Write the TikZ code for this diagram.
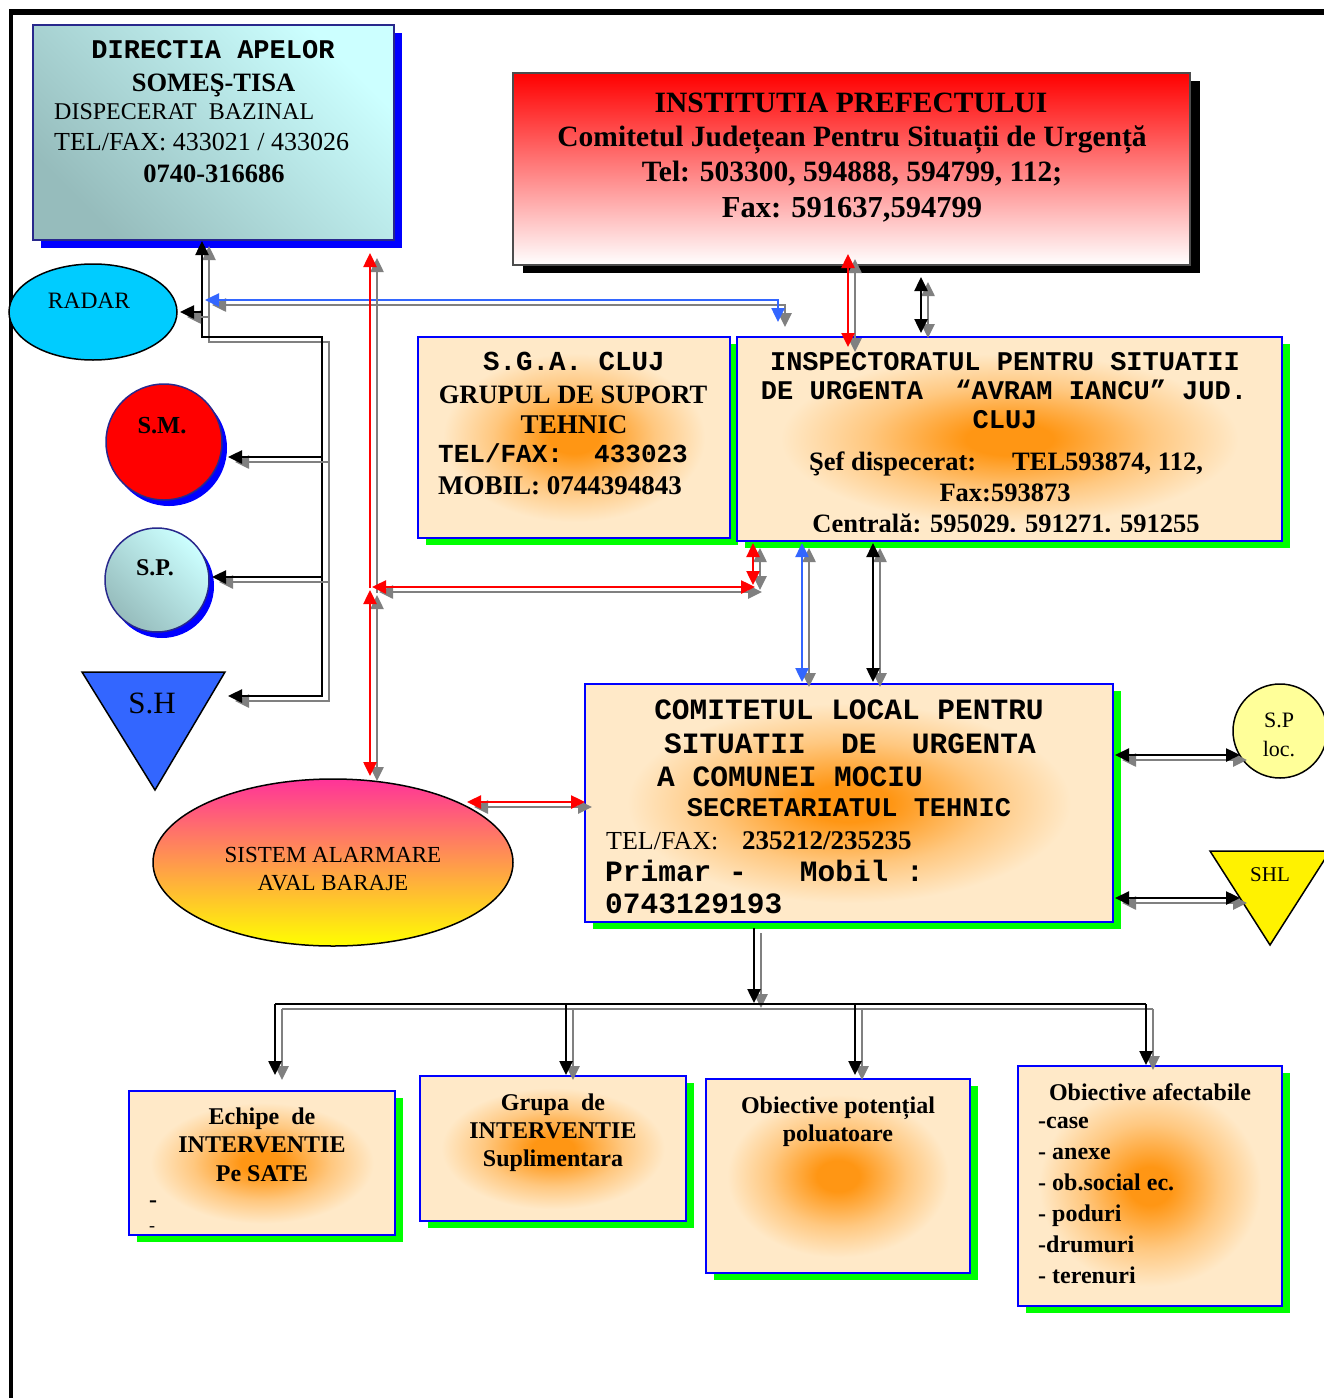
\documentclass[tikz,border=0pt]{standalone}
\usepackage{fontspec}
\setmainfont{Liberation Serif}
\newfontfamily\cour{Liberation Mono}
\usetikzlibrary{arrows.meta,shadows,shapes.geometric}
\definecolor{peach}{RGB}{255,233,200}
\definecolor{orng}{RGB}{255,150,20}
\definecolor{dacyan}{RGB}{204,255,255}
\definecolor{dagray}{RGB}{150,188,188}
\definecolor{cgray}{RGB}{128,128,128}
\definecolor{bblue}{RGB}{0,0,255}
\definecolor{lblue}{RGB}{51,102,255}
\definecolor{radarc}{RGB}{0,204,255}
\definecolor{pinkc}{RGB}{255,51,153}
\definecolor{midc}{RGB}{255,170,115}
\definecolor{lyel}{RGB}{255,255,153}
\definecolor{navy}{RGB}{40,40,140}
\pgfdeclareradialshading{glow}{\pgfpoint{0bp}{0bp}}{color(0bp)=(orng); color(4bp)=(orng); color(13bp)=(orng!40!peach); color(21bp)=(peach); color(50bp)=(peach)}
\newcommand\fs[1]{\fontsize{#1}{#1}\selectfont}
\newcommand\twin[2]{\draw[#1,shadowln] #2; \draw[#1] #2;}
\begin{document}
\begin{tikzpicture}[x=1pt,y=-1pt,
  >={Triangle[length=14pt,width=13pt]},
  conn/.style={line width=2.5pt},
  blk/.style={conn,color=black},
  rd/.style={conn,color=red},
  blu/.style={conn,color=lblue},
  shadowln/.style={color=cgray,transform canvas={shift={(7,5)}}},
  sz/.style 2 args={minimum width=#1pt,minimum height=#2pt,inner sep=0pt},
  gbox/.style={draw=bblue,line width=2pt,shade,shading=glow,
     drop shadow={shadow xshift=8pt,shadow yshift=-7pt,fill=green,opacity=1}},
  txt/.style={inner sep=0pt,anchor=base},
  txw/.style={inner sep=0pt,anchor=base west}]
\useasboundingbox (0,0) rectangle (1324,1398);
\fill[white] (0,0) rectangle (1324,1398);
% frame
\draw[line width=6pt] (9,12) -- (1324,12);
\draw[line width=3.5pt] (11,12) -- (11,1398);

% boxes
\node[sz={361}{215},draw=navy,line width=1.5pt,top color=dacyan,bottom color=dagray,shading angle=-45,
  drop shadow={shadow xshift=8pt,shadow yshift=-8pt,fill=bblue,opacity=1}] (da) at (213.5,132.5) {};
\node[sz={677}{192},draw=black!70,line width=1.5pt,top color=red,bottom color=white,
  drop shadow={shadow xshift=10pt,shadow yshift=-8pt,fill=black,opacity=1}] (pref) at (851.5,169) {};
\node[sz={312}{201},gbox] (sga) at (574,437.5) {};
\node[sz={545}{204},gbox] (insp) at (1009.5,439) {};
\node[sz={528}{238},gbox] (com) at (849,803) {};
\node[sz={266}{144},gbox] (ech) at (262,1163) {};
\node[sz={266}{145},gbox] (grp) at (553,1148.5) {};
\node[sz={264}{194},gbox] (obp) at (838,1176) {};
\node[sz={264}{240},gbox] (oba) at (1150,1186) {};

% round shapes
\node[ellipse,sz={168}{96},draw=black,line width=1.5pt,fill=radarc] (radar) at (93,312) {};
\node[circle,sz={116}{116},draw=navy,line width=1.5pt,fill=red,
  drop shadow={shadow xshift=5pt,shadow yshift=-6pt,fill=bblue,opacity=1}] (sm) at (164,442) {};
\node[circle,sz={104}{104},draw=navy,line width=1.5pt,top color=dacyan,bottom color=dagray,shading angle=-45,
  drop shadow={shadow xshift=5pt,shadow yshift=-6pt,fill=bblue,opacity=1}] (sp) at (157,580) {};
\node[ellipse,sz={360}{167},draw=black,line width=1.5pt,top color=pinkc,middle color=midc,bottom color=yellow] (sist) at (333,862.5) {};
\node[circle,sz={94}{94},draw=black,line width=1.5pt,fill=lyel] (sploc) at (1280,731) {};
\draw[line width=1.5pt,fill=lblue] (82,672) -- (225,672) -- (155,790) -- cycle;
\draw[line width=1.5pt,fill=yellow] (1210,851) -- (1330,851) -- (1270,945) -- cycle;

% texts DA
\node[txt] (da1) at (213,58) {\cour\bfseries\fs{27}DIRECTIA APELOR};
\node[txt] (da2) at (213.5,91) {\bfseries\fs{26.5}SOMEŞ-TISA};
\node[txw] (da3) at (54,119) {\fs{24}DISPECERAT\ \ BAZINAL};
\node[txw] (da4) at (54,150) {\fs{26}TEL/FAX: 433021 / 433026};
\node[txt] (da5) at (214,182) {\bfseries\fs{26.5}0740-316686};
% prefect
\node[txt] (p1) at (851,112) {\bfseries\fs{29.5}INSTITUTIA PREFECTULUI};
\node[txt] (p2) at (852,146) {\bfseries\fs{29.5}Comitetul Județean Pentru Situații de Urgență};
\node[txt] (p3) at (852,181) {\bfseries\fs{29.5}Tel: 503300, 594888, 594799, 112;};
\node[txt] (p4) at (852,217) {\bfseries\fs{30.5}Fax: 591637,594799};
% sga
\node[txt] (s1) at (574,370) {\cour\bfseries\fs{27.5}S.G.A. CLUJ};
\node[txt] (s2) at (573,403) {\bfseries\fs{26.5}GRUPUL DE SUPORT};
\node[txt] (s3) at (574,433) {\bfseries\fs{27}TEHNIC};
\node[txw] (s4) at (438,462) {\cour\bfseries\fs{26}TEL/FAX:\ \ 433023};
\node[txw] (s5) at (438,494) {\bfseries\fs{27}MOBIL: 0744394843};
% inspectorat
\node[txt] (i1) at (1005,370) {\cour\bfseries\fs{27}INSPECTORATUL PENTRU SITUATII};
\node[txt] (i2) at (1004,399) {\cour\bfseries\fs{27}DE URGENTA\ \ “AVRAM IANCU” JUD.};
\node[txt] (i3) at (1005,428) {\cour\bfseries\fs{27}CLUJ};
\node[txt] (i4) at (1006,470) {\bfseries\fs{26.5}Şef dispecerat:\hspace{36pt}TEL593874, 112,};
\node[txt] (i5) at (1005,501) {\bfseries\fs{26.5}Fax:593873};
\begin{scope}
\clip (740,340) rectangle (1280,531);
\node[txt] (i6) at (1006,532) {\bfseries\fs{26.5}Centrală: 595029. 591271. 591255};
\end{scope}
% comitetul
\node[txt] (c1) at (849,719) {\cour\bfseries\fs{29.5}COMITETUL LOCAL PENTRU};
\node[txt] (c2) at (850,753) {\cour\bfseries\fs{29.5}SITUATII\ \ DE\ \ URGENTA};
\node[txw] (c3) at (657,786) {\cour\bfseries\fs{29.5}A COMUNEI MOCIU};
\node[txt] (c4) at (849,816) {\cour\bfseries\fs{27}SECRETARIATUL TEHNIC};
\node[txw] (c5) at (606,849) {\fs{26}TEL/FAX:};
\node[txw] (c6) at (742,849) {\bfseries\fs{27}235212/235235};
\node[txw] (c7) at (605,881) {\cour\bfseries\fs{29.5}Primar -\ \ \ Mobil :};
\node[txw] (c8) at (605,913) {\cour\bfseries\fs{29.5}0743129193};
% bottom
\node[txt] (e1) at (262,1124) {\bfseries\fs{24}Echipe\ \ de};
\node[txt] (e2) at (262,1152) {\bfseries\fs{24}INTERVENTIE};
\node[txt] (e3) at (262,1181) {\bfseries\fs{24}Pe SATE};
\node[txw] (e4) at (149,1207) {\bfseries\fs{24}-};
\node[txw] (e5) at (149,1231) {\fs{18}-};
\node[txt] (g1) at (553,1110) {\bfseries\fs{24}Grupa\ \ de};
\node[txt] (g2) at (553,1138) {\bfseries\fs{24}INTERVENTIE};
\node[txt] (g3) at (553,1166) {\bfseries\fs{24}Suplimentara};
\node[txt] (o1) at (838,1113) {\bfseries\fs{24}Obiective potențial};
\node[txt] (o2) at (838,1141) {\bfseries\fs{24}poluatoare};
\node[txt] (a1) at (1150,1100) {\bfseries\fs{24}Obiective afectabile};
\node[txw] (a2) at (1038,1128) {\bfseries\fs{24}-case};
\node[txw] (a3) at (1038,1159) {\bfseries\fs{24}- anexe};
\node[txw] (a4) at (1038,1190) {\bfseries\fs{24}- ob.social ec.};
\node[txw] (a5) at (1038,1221) {\bfseries\fs{24}- poduri};
\node[txw] (a6) at (1038,1252) {\bfseries\fs{24}-drumuri};
\node[txw] (a7) at (1038,1283) {\bfseries\fs{24}- terenuri};
% shapes text
\node[txt] (r1) at (89,308) {\fs{23.5}RADAR};
\node[txt] (sm1) at (162,433) {\bfseries\fs{24.5}S.M.};
\node[txt] (sp1) at (155,575) {\bfseries\fs{24}S.P.};
\node[txt] (sh1) at (152,713) {\fs{31}S.H};
\node[txt] (al1) at (333,862) {\fs{23}SISTEM ALARMARE};
\node[txt] (al2) at (333,890) {\fs{23}AVAL BARAJE};
\node[txt] (pl1) at (1279,727) {\fs{22}S.P};
\node[txt] (pl2) at (1279,756) {\fs{22}loc.};
\node[txt] (shl1) at (1270,881) {\fs{21}SHL};

% connector coordinates
\coordinate (aDA) at (202,241);
\coordinate (aJ1) at (202,337);
\coordinate (aJ2) at (322,337);
\coordinate (aJ3) at (322,697);
\coordinate (aRd0) at (202,312); \coordinate (aRd) at (180,312);
\coordinate (aSM0) at (322,457); \coordinate (aSM) at (228,457);
\coordinate (aSP0) at (322,577); \coordinate (aSP) at (212,577);
\coordinate (aSH0) at (322,696); \coordinate (aSH) at (228,696);
\coordinate (bE) at (778,322); \coordinate (bC) at (778,300); \coordinate (bW) at (205,300);
\coordinate (rT) at (370,253); \coordinate (rM) at (370,588);
\coordinate (rM2) at (370,590); \coordinate (rB) at (370,776);
\coordinate (rL) at (372,587); \coordinate (rR) at (755,587);
\coordinate (rS1) at (753,543); \coordinate (rS2) at (753,585);
\coordinate (bv1) at (802,543); \coordinate (bv2) at (802,682);
\coordinate (kv1) at (873,543); \coordinate (kv2) at (873,682);
\coordinate (rp1) at (848,254); \coordinate (rp2) at (848,347);
\coordinate (kp1) at (921,277); \coordinate (kp2) at (921,333);
\coordinate (rs1) at (467,802); \coordinate (rs2) at (585,802);
\coordinate (k1) at (1115,755); \coordinate (k2) at (1240,755);
\coordinate (k3) at (1115,898); \coordinate (k4) at (1240,898);
\coordinate (bt0) at (754,928); \coordinate (bt1) at (754,1003);
\coordinate (hl) at (275,1004); \coordinate (hr) at (1146,1004);
\coordinate (h2) at (566,1004); \coordinate (h3) at (855,1004);
\coordinate (d1) at (275,1075); \coordinate (d2) at (566,1075);
\coordinate (d3) at (855,1075); \coordinate (d4) at (1146,1065);

% connectors
\twin{blk,->}{(aJ3) -- (aJ2) -- (aJ1) -- (aDA)}
\twin{blk,->}{(aRd0) -- (aRd)}
\twin{blk,->}{(aSM0) -- (aSM)}
\twin{blk,->}{(aSP0) -- (aSP)}
\twin{blk,->}{(aSH0) -- (aSH)}
\twin{blu,<->}{(bE) -- (bC) -- (bW)}
\twin{rd,->}{(rM) -- (rT)}
\twin{rd,<->}{(rM2) -- (rB)}
\twin{rd,<->}{(rL) -- (rR)}
\twin{rd,<->}{(rS1) -- (rS2)}
\twin{blu,<->}{(bv1) -- (bv2)}
\twin{blk,<->}{(kv1) -- (kv2)}
\twin{rd,<->}{(rp1) -- (rp2)}
\twin{blk,<->}{(kp1) -- (kp2)}
\twin{rd,<->}{(rs1) -- (rs2)}
\twin{blk,<->}{(k1) -- (k2)}
\twin{blk,<->}{(k3) -- (k4)}
\twin{blk,->}{(bt0) -- (bt1)}
\twin{blk}{(hl) -- (hr)}
\twin{blk,->}{(hl) -- (d1)}
\twin{blk,->}{(h2) -- (d2)}
\twin{blk,->}{(h3) -- (d3)}
\twin{blk,->}{(hr) -- (d4)}
\end{tikzpicture}
\end{document}
